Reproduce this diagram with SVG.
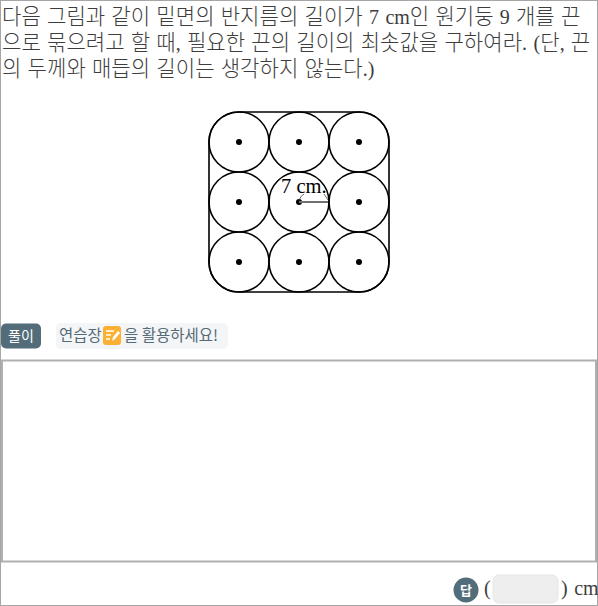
<svg xmlns="http://www.w3.org/2000/svg" width="598" height="606" viewBox="0 0 598 606">
<defs>
<style>
.q{font-family:"Noto Sans CJK KR",sans-serif;font-size:21.1px;font-weight:300;fill:#3d3d3d;word-spacing:1.5px}
.l{font-family:"Liberation Serif",serif;font-size:20px;font-weight:400}
.c{fill:none;stroke:#000;stroke-width:1.6}
.d{fill:#000}
.k{font-family:"Noto Sans CJK KR","Noto Sans",sans-serif}
</style>
</defs>
<rect x="0" y="0" width="598" height="606" fill="#fff"/>
<rect x="0.5" y="0.5" width="597" height="605" fill="none" stroke="#a6a6a6"/>
<g id="question">
<text class="q" x="2" y="23.500">다음 그림과 같이 밑면의 반지름의 길이가 <tspan class="l">7 cm</tspan>인 원기둥 <tspan class="l">9</tspan> 개를 끈</text>
<text class="q" x="2" y="49.500">으로 묶으려고 할 때<tspan class="l">,</tspan> 필요한 끈의 길이의 최솟값을 구하여라<tspan class="l">. (</tspan>단<tspan class="l">,</tspan> 끈</text>
<text class="q" x="2" y="75.500">의 두께와 매듭의 길이는 생각하지 않는다<tspan class="l">.)</tspan></text>
</g>
<g id="figure">
<rect class="c" x="209" y="112" width="180" height="180" rx="30"/>
<g id="circles">
<circle class="c" cx="239" cy="142" r="30"/><circle class="c" cx="299" cy="142" r="30"/><circle class="c" cx="359" cy="142" r="30"/>
<circle class="c" cx="239" cy="202" r="30"/><circle class="c" cx="299" cy="202" r="30"/><circle class="c" cx="359" cy="202" r="30"/>
<circle class="c" cx="239" cy="262" r="30"/><circle class="c" cx="299" cy="262" r="30"/><circle class="c" cx="359" cy="262" r="30"/>
</g>
<g id="dots">
<circle class="d" cx="239" cy="142" r="3"/><circle class="d" cx="299" cy="142" r="3"/><circle class="d" cx="359" cy="142" r="3"/>
<circle class="d" cx="239" cy="202" r="3"/><circle class="d" cx="299" cy="202" r="3"/><circle class="d" cx="359" cy="202" r="3"/>
<circle class="d" cx="239" cy="262" r="3"/><circle class="d" cx="299" cy="262" r="3"/><circle class="d" cx="359" cy="262" r="3"/>
</g>
<line x1="299" y1="202" x2="328" y2="202" stroke="#707070" stroke-width="2"/>
<path d="M299 201 Q300 196 304 194 M324 194 Q326 197 328 200" fill="none" stroke="#333" stroke-width="0.7"/>
<text x="281" y="193" font-family="Liberation Serif" font-size="20.500" fill="#000">7 cm.</text>
</g>
<g id="solve-label">
<rect x="1" y="323.500" width="40" height="25" rx="5" fill="#536c7a"/>
<text class="k" x="21" y="341" font-size="14" fill="#fff" text-anchor="middle">풀이</text>
</g>
<g id="hint">
<rect x="56" y="323" width="172" height="26" rx="5" fill="#f4f5f6"/>
<text class="k" x="59" y="341" font-size="15.500" fill="#566b78">연습장</text>
<rect x="103" y="326" width="18" height="19" rx="3" fill="#fbb034"/>
<path d="M106 331H114M106 335H111M106 339H110" stroke="#fff" stroke-width="1.4" fill="none"/>
<path d="M112 341L113 337L118 331L120 333L115 339Z" fill="#fff"/>
<text class="k" x="124" y="341" font-size="15.500" fill="#566b78">을 활용하세요!</text>
</g>
<rect id="answer-area" x="2" y="360.500" width="594" height="201" fill="#fff" stroke="#b0b0b0" stroke-width="2"/>
<g id="answer">
<circle cx="466" cy="590" r="12.500" fill="#536c7a"/>
<text class="k" x="466" y="595" font-size="13" font-weight="700" fill="#fff" text-anchor="middle">답</text>
<text class="q" x="484" y="595"><tspan class="l">(</tspan></text>
<rect x="493" y="575" width="65" height="28" rx="6" fill="#eeeeee" stroke="#e6e6e6"/>
<text class="q" x="561" y="595"><tspan class="l">) cm</tspan></text>
</g>
</svg>
